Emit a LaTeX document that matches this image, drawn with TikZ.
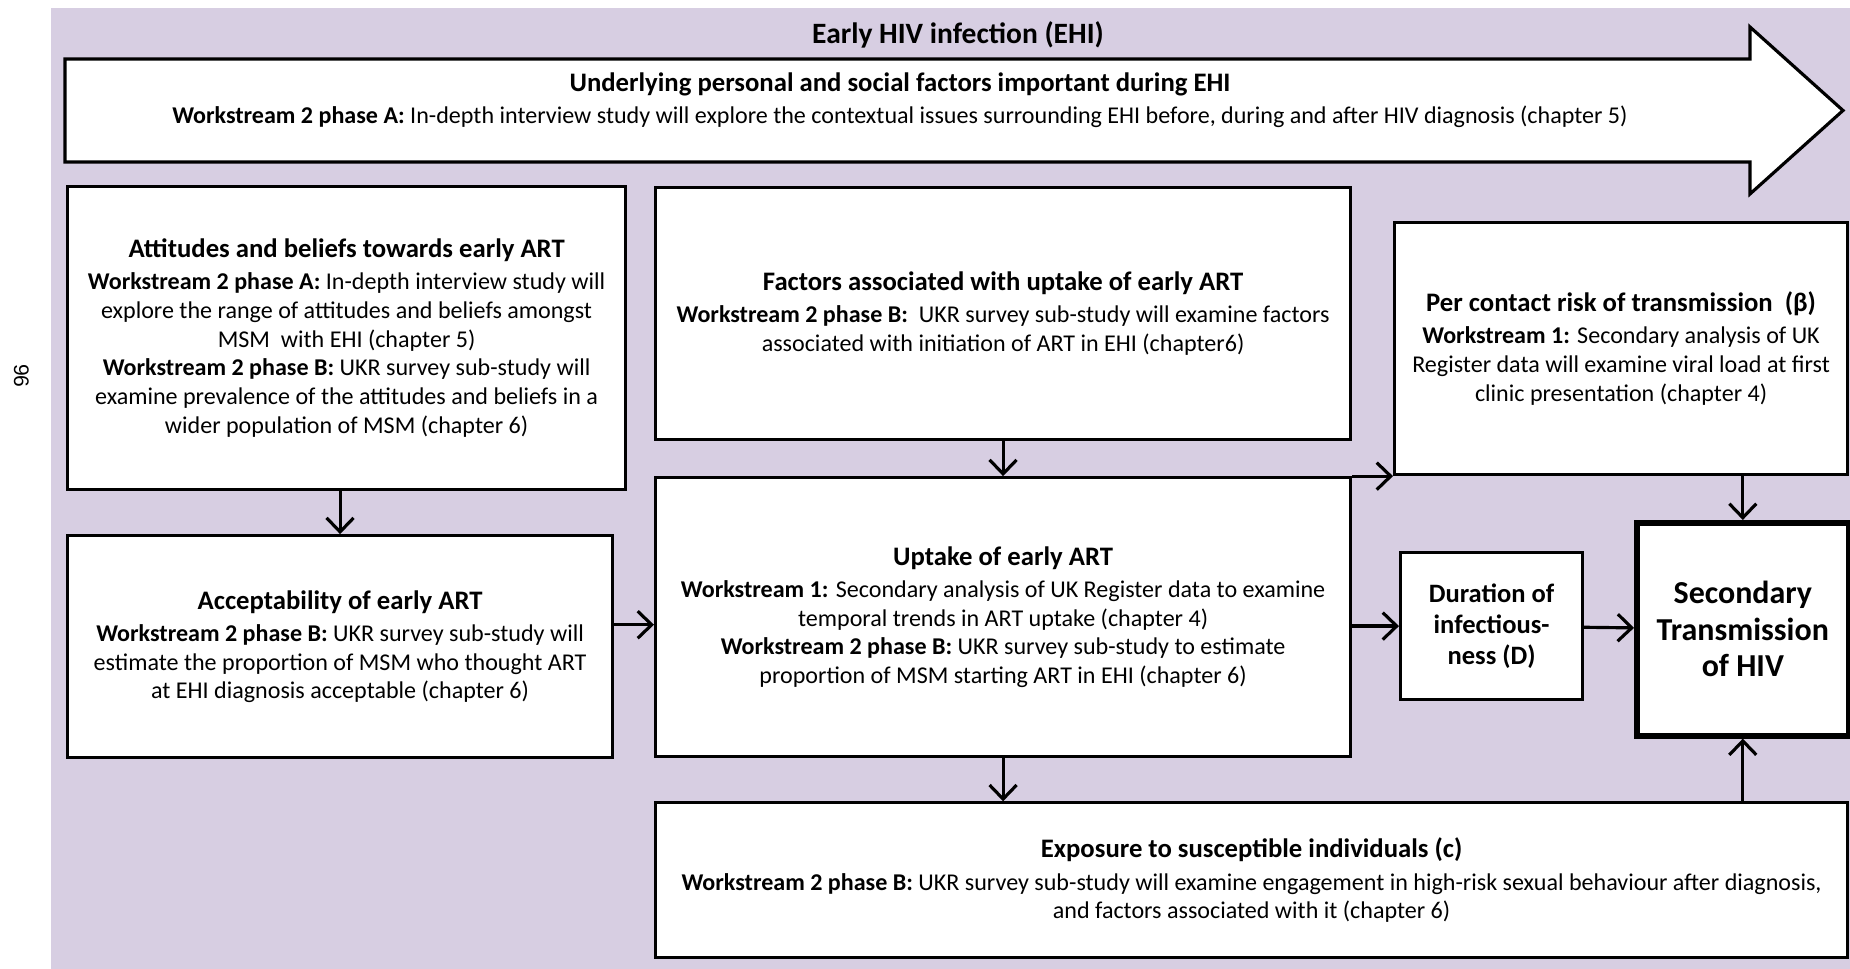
\documentclass[tikz,border=0pt]{standalone}
\usepackage{fontspec}
\setmainfont{Carlito}
\newfontfamily\pagefont{Liberation Sans}
\usepackage{xcolor}
\usepackage{tikz}
\usetikzlibrary{arrows.meta,positioning}
\definecolor{ehibg}{RGB}{215,206,226}
\newcommand{\boxtitle}[1]{{\fontsize{15.2}{16.3}\selectfont\bfseries #1}}

\begin{document}
\begin{tikzpicture}[
  box/.style={rectangle, draw=black, line width=1.8pt, fill=white, align=center,
    inner sep=2pt, font=\fontsize{13.7}{16.3}\selectfont},
  bigbox/.style={box, font=\fontsize{15.1}{17.6}\selectfont\bfseries},
  arr/.style={-{Straight Barb[length=2.8mm,width=5.4mm]}, line width=1.8pt}
]
\useasboundingbox (0,0) rectangle (37,19.38);
\fill[ehibg] (1.02,0) rectangle (37,19.22);

\node[font=\fontsize{12}{14}\pagefont, rotate=-90] (pagenum) at (0.43,11.86) {96};

% early HIV infection arrow
\draw[line width=1.8pt, fill=white] (1.30,16.14) -- (1.30,18.20) -- (35.0,18.20) -- (35.0,18.84)
  -- (36.86,17.17) -- (35.0,15.50) -- (35.0,16.14) -- cycle;
\node[font=\fontsize{16.8}{18}\selectfont\bfseries] (ehi) at (19.16,18.68) {Early HIV infection (EHI)};
\node[align=center, font=\fontsize{13.7}{18}\selectfont] (underlying) at (18.0,17.38)
  {\boxtitle{Underlying personal and social factors important during EHI}\\
   \textbf{Workstream 2 phase A:} In-depth interview study will explore the contextual issues surrounding EHI before, during and after HIV diagnosis (chapter 5)};

% left column
\node[box, minimum width=11.16cm, minimum height=6.06cm, anchor=north west] (attitudes) at (1.32,15.68)
  {\boxtitle{Attitudes and beliefs towards early ART}\\[2pt]
   \textbf{Workstream 2 phase A:} In-depth interview study will\\
   explore the range of attitudes and beliefs amongst\\
   MSM\ \ with EHI (chapter 5)\\
   \textbf{Workstream 2 phase B:} UKR survey sub-study will\\
   examine prevalence of the attitudes and beliefs in a\\
   wider population of MSM (chapter 6)};
\node[box, minimum width=10.90cm, minimum height=4.44cm, below=0.86cm of attitudes.south west, anchor=north west] (accept)
  {\boxtitle{Acceptability of early ART}\\[2pt]
   \textbf{Workstream 2 phase B:} UKR survey sub-study will\\
   estimate the proportion of MSM who thought ART\\
   at EHI diagnosis acceptable (chapter 6)};

% middle column
\node[box, minimum width=13.90cm, minimum height=5.04cm, anchor=north west] (factors) at (13.08,15.66)
  {\boxtitle{Factors associated with uptake of early ART}\\[2pt]
   \textbf{Workstream 2 phase B:}\ \ UKR survey sub-study will examine factors\\
   associated with initiation of ART in EHI (chapter6)};
\node[box, minimum width=13.90cm, minimum height=5.58cm, below=0.70cm of factors] (uptake)
  {\boxtitle{Uptake of early ART}\\[2pt]
   \textbf{Workstream 1:} Secondary analysis of UK Register data to examine\\
   temporal trends in ART uptake (chapter 4)\\
   \textbf{Workstream 2 phase B:} UKR survey sub-study to estimate\\
   proportion of MSM starting ART in EHI (chapter 6)};
\node[box, minimum width=23.84cm, minimum height=3.10cm, below=0.86cm of uptake.south west, anchor=north west] (exposure)
  {\boxtitle{Exposure to susceptible individuals (c)}\\[2pt]
   \textbf{Workstream 2 phase B:} UKR survey sub-study will examine engagement in high-risk sexual behaviour after diagnosis,\\
   and factors associated with it (chapter 6)};

% right column
\node[box, minimum width=9.06cm, minimum height=5.04cm, anchor=north west] (risk) at (27.86,14.96)
  {\boxtitle{Per contact risk of transmission\ \ (β)}\\[2pt]
   \textbf{Workstream 1:} Secondary analysis of UK\\
   Register data will examine viral load at first\\
   clinic presentation (chapter 4)};
\node[bigbox, minimum width=3.64cm, minimum height=2.94cm, anchor=north west] (duration) at (27.98,8.36)
  {Duration of\\infectious-\\ness (D)};
\node[bigbox, line width=3.2pt, minimum width=4.24cm, minimum height=4.26cm, anchor=north west,
  font=\fontsize{18.2}{20.8}\selectfont\bfseries] (secondary) at (32.68,8.98)
  {Secondary\\Transmission\\of HIV};

\draw[arr] (attitudes.south -| accept.north) -- (accept.north);
\draw[arr] ([yshift=4.4mm]accept.east) -- ([yshift=4.4mm]accept.east -| uptake.west);
\draw[arr] (factors) -- (uptake);
\draw[arr] (uptake.north east) -- (uptake.north east -| risk.west);
\draw[arr] (uptake.east |- duration.west) -- (duration.west);
\draw[arr] (duration) -- (secondary);
\draw[arr] (risk.south -| secondary.north) -- (secondary.north);
\draw[arr] (uptake.south) -- (uptake.south |- exposure.north);
\draw[arr] (secondary.south |- exposure.north) -- (secondary.south);
\end{tikzpicture}
\end{document}
